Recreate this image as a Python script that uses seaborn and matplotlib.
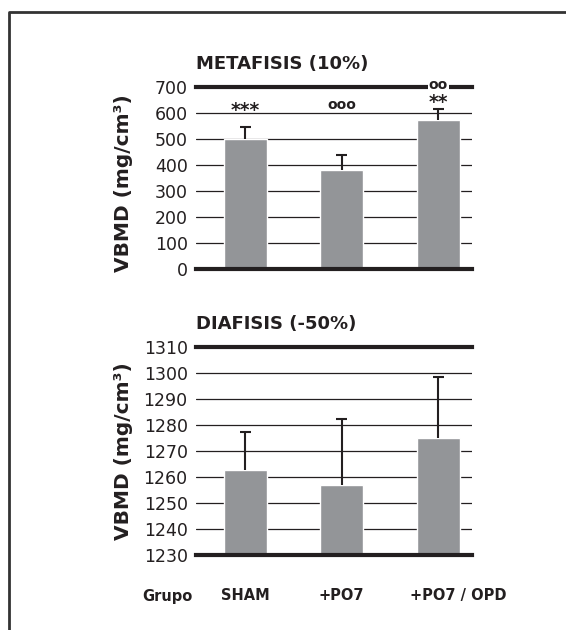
import numpy as np
import pandas as pd
import matplotlib.pyplot as plt
import seaborn as sns
from matplotlib.lines import Line2D
from matplotlib.transforms import ScaledTranslation

# datos
grupos = ["SHAM", "+PO7", "+PO7 / OPD"]
meta_media = [498, 381, 572]
meta_err = [46, 55, 44]
dia_media = [1262.6, 1256.9, 1275.0]
dia_err = [14.6, 25.5, 23.2]
meta_ticks = [0, 100, 200, 300, 400, 500, 600, 700]
dia_ticks = [1230, 1240, 1250, 1260, 1270, 1280, 1290, 1300, 1310]

sns.set_style("white")
plt.rcParams["font.family"] = ["DejaVu Sans"]

gris = "#939598"
negro = "#231f20"

fig = plt.figure(figsize=(5.66, 6.30), dpi=100)
ax1 = fig.add_axes([196 / 566, 1 - 269 / 630, 276 / 566, 182.3 / 630])
ax2 = fig.add_axes([196 / 566, 1 - 555 / 630, 276 / 566, 208.3 / 630])


def panel(ax, medias, errs, ticks, titulo):
    df = pd.DataFrame({"grupo": grupos, "valor": medias})
    sns.barplot(data=df, x="grupo", y="valor", color=gris, width=0.45,
                saturation=1, ax=ax, zorder=3)
    x = np.arange(len(grupos))
    tops = np.array(medias) + np.array(errs)
    # barras de error solo hacia arriba
    ax.vlines(x, medias, tops, color=negro, lw=1.5, zorder=4)
    ax.hlines(tops, x - 0.055, x + 0.055, color=negro, lw=1.5, zorder=4)
    ax.set_ylim(ticks[0], ticks[-1])
    ax.set_xlim(-0.51, 2.35)
    ax.set_yticks(ticks)
    ax.set_yticklabels([str(t) for t in ticks], fontsize=12.5, color=negro)
    ax.yaxis.grid(True, color=negro, linewidth=0.9, zorder=1)
    ax.set_axisbelow(True)
    for s in ["left", "right"]:
        ax.spines[s].set_visible(False)
    for s in ["top", "bottom"]:
        ax.spines[s].set_linewidth(3.0)
        ax.spines[s].set_color(negro)
        ax.spines[s].set_zorder(5)
    ax.tick_params(axis="y", length=0, pad=6)
    ax.set_ylabel("VBMD (mg/cm³)", fontsize=14.5, fontweight="bold",
                  color=negro)
    ax.set_xlabel("")
    ax.set_title(titulo, fontsize=13, fontweight="bold", loc="left",
                 color=negro, pad=13)


panel(ax1, meta_media, meta_err, meta_ticks, "METAFISIS (10%)")
panel(ax2, dia_media, dia_err, dia_ticks, "DIAFISIS (-50%)")

ax1.set_xticks([])
ax1.yaxis.set_label_coords(-0.23, 0.47)
ax2.yaxis.set_label_coords(-0.23, 0.5)

ax2.set_xticks(range(len(grupos)))
ax2.set_xticklabels(grupos, fontsize=10.5, fontweight="bold", color=negro)
ax2.tick_params(axis="x", length=0, pad=24)
# la ultima etiqueta esta algo desplazada a la derecha en el original
lbl = ax2.get_xticklabels()[2]
lbl.set_transform(lbl.get_transform() + ScaledTranslation(0.2, 0, fig.dpi_scale_trans))
fig.text(167 / 566, 1 - 596 / 630, "Grupo", fontsize=10.5, fontweight="bold",
         color=negro, ha="center", va="center")

# significancias
ax1.text(0, 587, "***", ha="center", va="baseline", fontsize=13.5,
         fontweight="bold", color=negro)
ax1.text(1, 630, "ooo", ha="center", va="center", fontsize=10,
         fontweight="bold", color=negro)
ax1.text(2, 619, "**", ha="center", va="baseline", fontsize=13.5,
         fontweight="bold", color=negro)
ax1.text(2, 706, "oo", ha="center", va="center", fontsize=10,
         fontweight="bold", color=negro, zorder=6,
         bbox=dict(facecolor="white", edgecolor="none", pad=0.5))

# marco
fig.add_artist(Line2D([9 / 566, 9 / 566, 1], [0, 1 - 12 / 630, 1 - 12 / 630],
                      transform=fig.transFigure, color="#333333", lw=2))

fig.savefig("out.png", dpi=100)
